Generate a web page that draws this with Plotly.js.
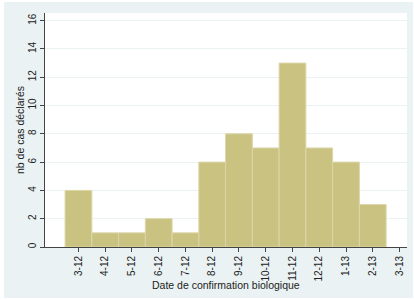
<!DOCTYPE html>
<html><head><meta charset="utf-8">
<script src="https://cdn.plot.ly/plotly-3.0.1.min.js"></script>
<style>
html,body{margin:0;padding:0;background:#fff;}
#chart{position:absolute;left:4px;top:2px;width:409px;height:296px;}
</style></head>
<body><div id="chart"></div>
<script>
const categories = ["3-12","4-12","5-12","6-12","7-12","8-12","9-12","10-12","11-12","12-12","1-13","2-13","3-13"];
const cases = [4,1,1,2,1,6,8,7,13,7,6,3,0];
const yTicks = [0,2,4,6,8,10,12,14,16];

const trace = {
  type: 'bar',
  x: categories.map((c,i)=>i),
  y: cases,
  width: 1,
  marker: {color: '#C9C280', line: {color: '#DCD6A8', width: cases.map(v => v > 0 ? 1 : 0)}},
  hoverinfo: 'x+y'
};

const layout = {
  width: 409, height: 296,
  margin: {l: 41, r: 6, t: 11, b: 51},
  paper_bgcolor: '#EAF2F3',
  plot_bgcolor: '#FFFFFF',
  font: {family: 'Liberation Sans, Arial, sans-serif', size: 10, color: '#222'},
  showlegend: false,
  bargap: 0,
  xaxis: {
    range: [-1.25, 12.28],
    tickmode: 'array',
    tickvals: categories.map((c,i)=>i),
    ticktext: categories,
    tickangle: -90,
    ticks: 'outside', ticklen: 4, tickcolor: '#444',
    showline: true, linecolor: '#444', linewidth: 1,
    showgrid: false, zeroline: false,
    tickfont: {size: 10}
  },
  yaxis: {
    range: [0, 16.54],
    tickmode: 'array',
    tickvals: yTicks,
    ticktext: yTicks.map(String),
    tickangle: -90,
    ticks: 'outside', ticklen: 4, tickcolor: '#444',
    showline: true, linecolor: '#444', linewidth: 1,
    showgrid: true, gridcolor: '#EAF2F3', gridwidth: 1,
    zeroline: false,
    tickfont: {size: 10},
    title: {text: 'nb de cas déclarés', font: {size: 10.5}, standoff: 0}
  },
  annotations: [{
    text: 'Date de confirmation biologique',
    xref: 'paper', yref: 'paper', x: 0.5, y: 0,
    xanchor: 'center', yanchor: 'middle', yshift: -38,
    showarrow: false, font: {size: 10.5}
  }]
};

Plotly.newPlot('chart', [trace], layout, {staticPlot: true, displayModeBar: false});
</script></body></html>
